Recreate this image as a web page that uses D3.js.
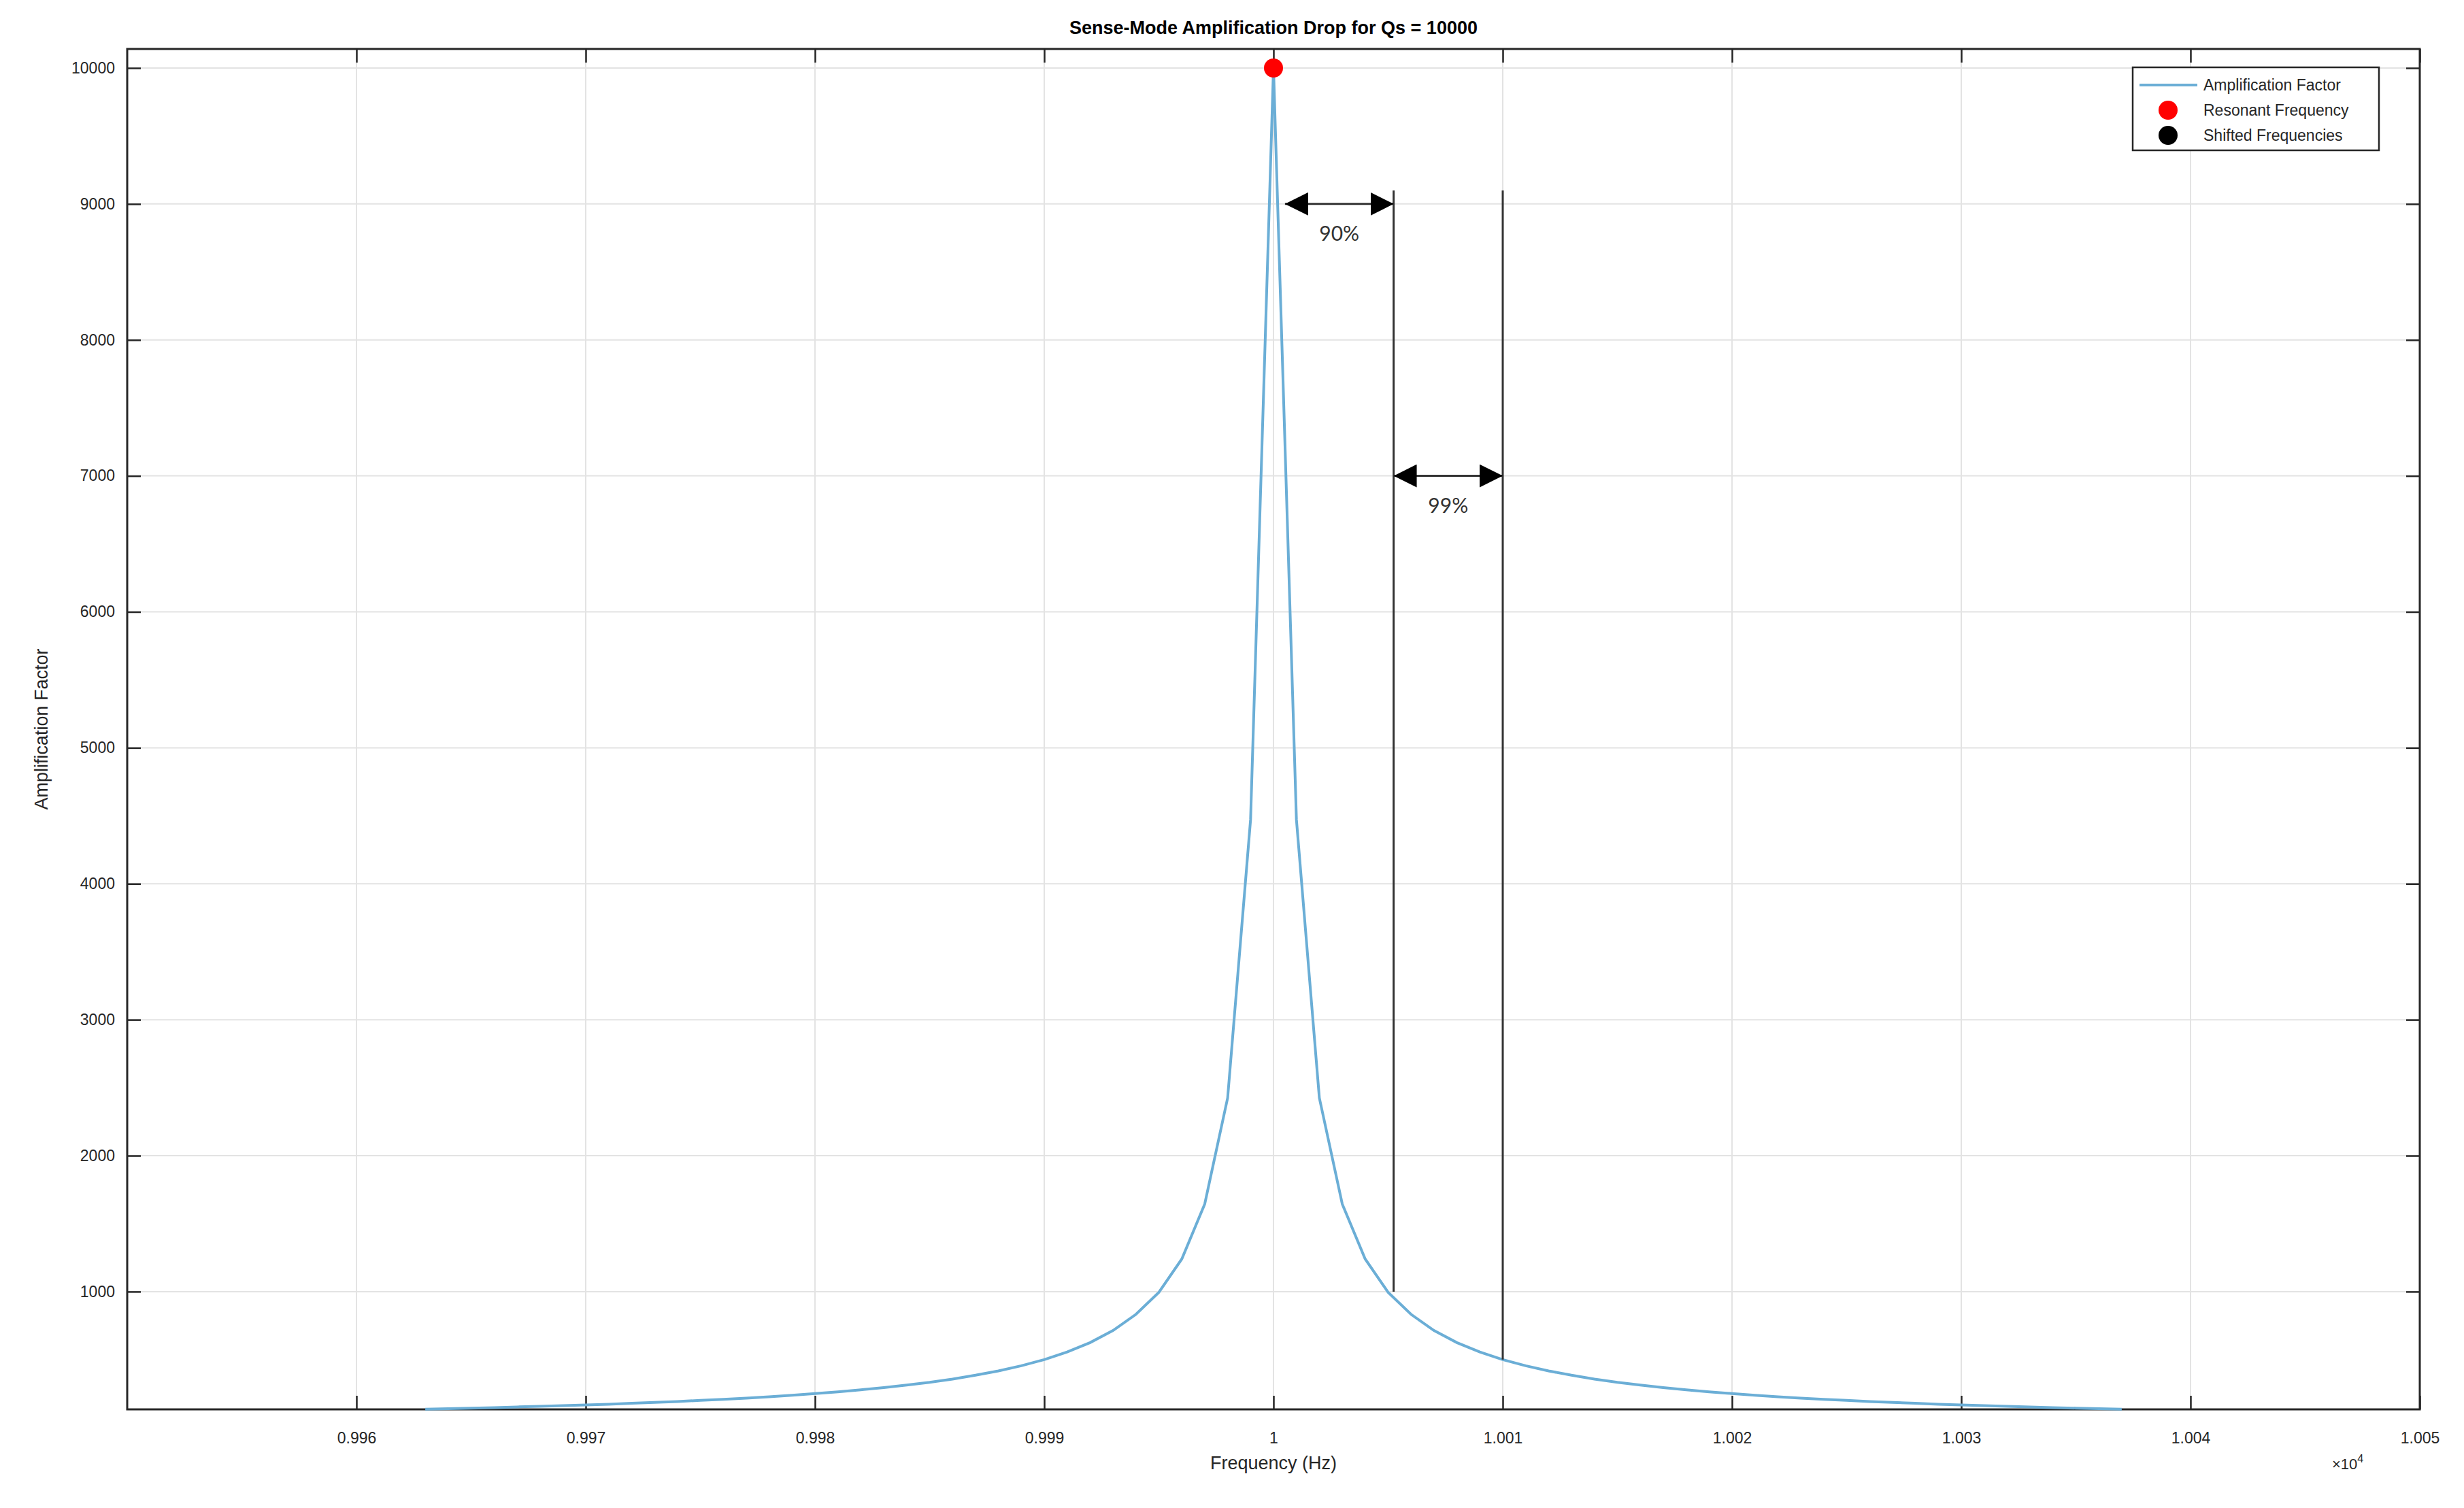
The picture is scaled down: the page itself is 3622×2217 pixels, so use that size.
<!DOCTYPE html>
<html><head><meta charset="utf-8">
<script src="https://cdn.jsdelivr.net/npm/d3@7"></script>
<style>body{margin:0;background:#fff}</style></head>
<body><svg id="c" width="3622" height="2217"></svg>
<script>
// Frequencies in units of 1e4 Hz, step 0.0001
const freqStart = 0.9963, freqStep = 0.0001;
const amplification = [135,139,143,147,152,156,161,167,172,179,185,192,200,208,217,227,238,250,263,278,294,313,333,357,385,417,455,500,556,625,714,833,995,1240,1644,2425,4472,10000,
4472,2425,1644,1240,995,833,714,625,556,500,455,417,385,357,333,313,294,278,263,250,238,227,217,208,200,192,185,179,172,167,161,156,152,147,143,139,135];
const xTicks = [0.996,0.997,0.998,0.999,1,1.001,1.002,1.003,1.004,1.005];
const yTicks = [1000,2000,3000,4000,5000,6000,7000,8000,9000,10000];
const resonant = {f:1, a:10000};
const shifted = [{f:1.000524, a:1000, label:"90%", arrowFrom:1.00005, arrowY:9000},
                 {f:1.001, a:500, label:"99%", arrowFrom:1.000524, arrowY:7000}];
const lineTop = 9100;

const data = amplification.map((a,i)=>({f:freqStart+i*freqStep, a}));
const L=187,R=3557,T=72,B=2072;
const x=d3.scaleLinear().domain([0.995,1.005]).range([L,R]);
const y=d3.scaleLinear().domain([134,10140]).range([B,T]);
const svg=d3.select("#c");
const font="Liberation Sans, Arial, sans-serif";
svg.append("defs").append("marker").attr("id","ah").attr("viewBox","0 0 10 10").attr("refX",10).attr("refY",5)
 .attr("markerWidth",10).attr("markerHeight",10).attr("markerUnits","userSpaceOnUse").attr("orient","auto-start-reverse")
 .append("path").attr("d","M0,0L10,5L0,10Z").attr("fill","#000");
d3.select("marker").attr("markerWidth",34).attr("markerHeight",34);

// grid
svg.append("g").selectAll("line").data(xTicks).join("line").attr("x1",d=>x(d)).attr("x2",d=>x(d)).attr("y1",T).attr("y2",B).attr("stroke","#e3e3e3").attr("stroke-width",2);
svg.append("g").selectAll("line").data(yTicks).join("line").attr("y1",d=>y(d)).attr("y2",d=>y(d)).attr("x1",L).attr("x2",R).attr("stroke","#e3e3e3").attr("stroke-width",2);

// axes
const ax=svg.append("g").attr("transform",`translate(0,${B})`).call(d3.axisBottom(x).tickValues(xTicks).tickFormat(d3.format("")).tickSizeInner(-20).tickSizeOuter(0).tickPadding(34));
const ay=svg.append("g").attr("transform",`translate(${L},0)`).call(d3.axisLeft(y).tickValues(yTicks).tickFormat(d3.format("")).tickSizeInner(-20).tickSizeOuter(0).tickPadding(18));
svg.append("g").attr("transform",`translate(0,${T})`).call(d3.axisTop(x).tickValues(xTicks).tickFormat("").tickSizeInner(-20).tickSizeOuter(0));
svg.append("g").attr("transform",`translate(${R},0)`).call(d3.axisRight(y).tickValues(yTicks).tickFormat("").tickSizeInner(-20).tickSizeOuter(0));
svg.selectAll(".domain").attr("stroke","none");
svg.selectAll(".tick line").attr("stroke","#262626").attr("stroke-width",2.5);
svg.selectAll(".tick text").attr("font-family",font).attr("font-size",23).attr("fill","#262626");
svg.append("rect").attr("x",L).attr("y",T).attr("width",R-L).attr("height",B-T).attr("fill","none").attr("stroke","#262626").attr("stroke-width",3);

// curve
svg.append("path").datum(data).attr("d",d3.line().x(d=>x(d.f)).y(d=>y(d.a))).attr("fill","none").attr("stroke","#6baed6").attr("stroke-width",4);

// vertical lines
svg.append("g").selectAll("line").data(shifted).join("line").attr("x1",d=>x(d.f)).attr("x2",d=>x(d.f)).attr("y1",y(lineTop)).attr("y2",d=>y(d.a)).attr("stroke","#333").attr("stroke-width",3);
// arrows
svg.append("g").selectAll("line").data(shifted).join("line").attr("x1",d=>x(d.arrowFrom)).attr("x2",d=>x(d.f)).attr("y1",d=>y(d.arrowY)).attr("y2",d=>y(d.arrowY))
 .attr("stroke","#333").attr("stroke-width",3).attr("marker-start","url(#ah)").attr("marker-end","url(#ah)");
svg.append("g").selectAll("text").data(shifted).join("text").attr("x",d=>x((d.arrowFrom+d.f)/2)).attr("y",d=>y(d.arrowY)+54).attr("text-anchor","middle")
 .attr("font-family","Lato, sans-serif").attr("font-size",30).attr("fill","#333").text(d=>d.label);

// resonant point
svg.append("circle").attr("cx",x(resonant.f)).attr("cy",y(resonant.a)).attr("r",14).attr("fill","#ff0000");

// title & labels
svg.append("text").attr("x",(L+R)/2).attr("y",50).attr("text-anchor","middle").attr("font-family",font).attr("font-weight","bold").attr("font-size",27).attr("fill","#000").text("Sense-Mode Amplification Drop for Qs = 10000");
svg.append("text").attr("x",(L+R)/2).attr("y",2160).attr("text-anchor","middle").attr("font-family",font).attr("font-size",27).attr("fill","#262626").text("Frequency (Hz)");
svg.append("text").attr("transform",`translate(70,${(T+B)/2}) rotate(-90)`).attr("text-anchor","middle").attr("font-family",font).attr("font-size",27).attr("fill","#262626").text("Amplification Factor");
const ex=svg.append("text").attr("x",3428).attr("y",2160).attr("font-family",font).attr("font-size",22).attr("fill","#262626");
ex.append("tspan").text("×10");
ex.append("tspan").attr("dy",-10).attr("font-size",16).text("4");

// legend
const lg=svg.append("g").attr("transform","translate(3135,99)");
lg.append("rect").attr("width",362).attr("height",122).attr("fill","#fff").attr("stroke","#262626").attr("stroke-width",2.5);
const items=[{t:"Amplification Factor",k:"line"},{t:"Resonant Frequency",k:"red"},{t:"Shifted Frequencies",k:"black"}];
items.forEach((it,i)=>{
  const yy=26+i*37;
  if(it.k==="line") lg.append("line").attr("x1",10).attr("x2",95).attr("y1",yy).attr("y2",yy).attr("stroke","#6baed6").attr("stroke-width",4);
  else lg.append("circle").attr("cx",52).attr("cy",yy).attr("r",14).attr("fill",it.k==="red"?"#ff0000":"#000");
  lg.append("text").attr("x",104).attr("y",yy+8).attr("font-family",font).attr("font-size",23).attr("fill","#262626").text(it.t);
});
</script></body></html>
